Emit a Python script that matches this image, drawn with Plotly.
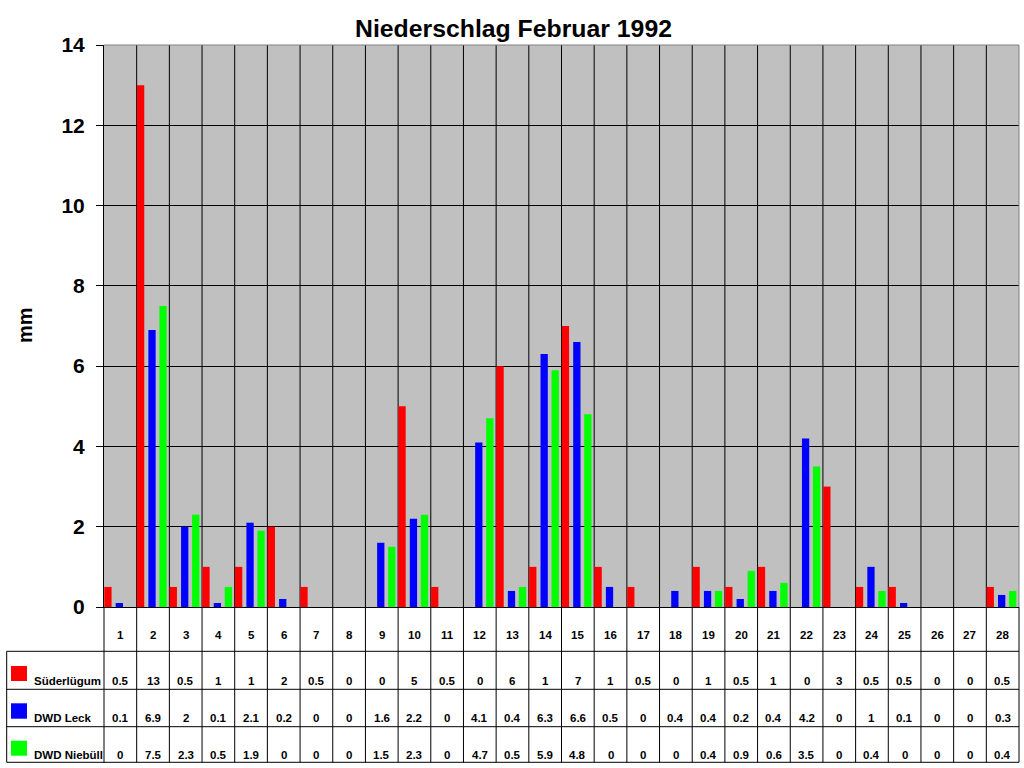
import plotly.graph_objects as go

days = [str(d) for d in range(1, 29)]
series_names = ["Süderlügum", "DWD Leck", "DWD Niebüll"]
suederluegum = [0.5, 13, 0.5, 1, 1, 2, 0.5, 0, 0, 5, 0.5, 0, 6, 1, 7, 1, 0.5, 0, 1, 0.5, 1, 0, 3, 0.5, 0.5, 0, 0, 0.5]
dwd_leck = [0.1, 6.9, 2, 0.1, 2.1, 0.2, 0, 0, 1.6, 2.2, 0, 4.1, 0.4, 6.3, 6.6, 0.5, 0, 0.4, 0.4, 0.2, 0.4, 4.2, 0, 1, 0.1, 0, 0, 0.3]
dwd_niebuell = [0, 7.5, 2.3, 0.5, 1.9, 0, 0, 0, 1.5, 2.3, 0, 4.7, 0.5, 5.9, 4.8, 0, 0, 0, 0.4, 0.9, 0.6, 3.5, 0, 0.4, 0, 0, 0, 0.4]
y_ticks = [0, 2, 4, 6, 8, 10, 12, 14]
title_text = "Niederschlag Februar 1992"
y_title = "mm"

colors = ["#FF0000", "#0000FF", "#00FF00"]
offsets = [-0.491, -0.142, 0.195]
bar_w = 0.223
FONT = "Arial, Liberation Sans, sans-serif"

W, H = 1024, 768
L, R, T, B = 104, 5, 45, 161
plot_w = W - L - R
plot_h = H - T - B


def py(ypx):
    return (H - B - ypx) / plot_h


def px(xpx):
    return (xpx - L) / plot_w


fig = go.Figure()
all_series = [suederluegum, dwd_leck, dwd_niebuell]
for name, vals, col, off in zip(series_names, all_series, colors, offsets):
    fig.add_trace(go.Bar(x=days, y=vals, name=name, marker=dict(color=col, line=dict(width=0)),
                         width=bar_w, offset=off, showlegend=False))

shapes = []
annotations = []

# plot border (top/right gray)
shapes.append(dict(type="line", xref="paper", yref="paper", x0=0, x1=1, y0=1, y1=1,
                   line=dict(color="#808080", width=1)))
shapes.append(dict(type="line", xref="paper", yref="paper", x0=1, x1=1, y0=0, y1=1,
                   line=dict(color="#808080", width=1)))

# vertical category boundary lines through plot and table
y_tab_bottom = py(762.3)
for i in range(1, len(days)):
    shapes.append(dict(type="line", xref="x", yref="paper", x0=i - 0.5, x1=i - 0.5,
                       y0=y_tab_bottom, y1=1, line=dict(color="black", width=1), layer="below"))
shapes.append(dict(type="line", xref="paper", yref="paper", x0=0, x1=0, y0=y_tab_bottom, y1=0,
                   line=dict(color="black", width=1)))
shapes.append(dict(type="line", xref="paper", yref="paper", x0=1, x1=1, y0=y_tab_bottom, y1=0,
                   line=dict(color="black", width=1)))

# table horizontal lines
x_tab_left = px(6.7)
row_lines = [651.3, 689.3, 726.7, 762.3]
for yl in row_lines:
    shapes.append(dict(type="line", xref="paper", yref="paper", x0=x_tab_left, x1=1,
                       y0=py(yl), y1=py(yl), line=dict(color="black", width=1)))
shapes.append(dict(type="line", xref="paper", yref="paper", x0=x_tab_left, x1=x_tab_left,
                   y0=py(651.3), y1=y_tab_bottom, line=dict(color="black", width=1)))

TFONT = dict(family=FONT, size=11.5, color="black", weight="bold")

# day number row
for i, d in enumerate(days):
    annotations.append(dict(x=i, y=py(635), xref="x", yref="paper", text=d, showarrow=False,
                            xanchor="center", yanchor="middle", font=TFONT))


def fmt(v):
    return ("%g" % v)


row_text_y = [680.7, 718, 754.7]
swatch_y = [(666, 681), (703.3, 718.7), (740.7, 755.7)]
for name, vals, col, ty, (s0, s1) in zip(series_names, all_series, colors, row_text_y, swatch_y):
    shapes.append(dict(type="rect", xref="paper", yref="paper", x0=px(11), x1=px(27),
                       y0=py(s1), y1=py(s0), fillcolor=col, line=dict(width=0)))
    annotations.append(dict(x=px(32), y=py(ty), xref="paper", yref="paper", text=name,
                            showarrow=False, xanchor="left", yanchor="middle", font=TFONT))
    for i, v in enumerate(vals):
        annotations.append(dict(x=i, y=py(ty), xref="x", yref="paper", text=fmt(v), showarrow=False,
                                xanchor="center", yanchor="middle", font=TFONT))

# title and y axis title
annotations.append(dict(x=px(513), y=py(28), xref="paper", yref="paper", text=title_text,
                        showarrow=False, xanchor="center", yanchor="middle",
                        font=dict(family=FONT, size=24.8, color="black", weight="bold")))
annotations.append(dict(x=px(25), y=py(325), xref="paper", yref="paper", text=y_title,
                        showarrow=False, xanchor="center", yanchor="middle", textangle=-90,
                        font=dict(family=FONT, size=20, color="black", weight="bold")))

fig.update_layout(
    width=W, height=H,
    margin=dict(l=L, r=R, t=T, b=B),
    paper_bgcolor="white", plot_bgcolor="#C0C0C0",
    barmode="overlay",
    shapes=shapes, annotations=annotations,
    xaxis=dict(type="category", range=[-0.5, len(days) - 0.5], showgrid=False,
               showticklabels=False, ticks="", showline=True, linecolor="black", linewidth=1,
               zeroline=False, fixedrange=True),
    yaxis=dict(range=[0, 14], tickvals=y_ticks, showgrid=True, gridcolor="black", gridwidth=1,
               ticks="outside", ticklen=7, tickcolor="black", tickwidth=1,
               showline=True, linecolor="black", linewidth=1, zeroline=False,
               ticklabelstandoff=7,
               tickfont=dict(family=FONT, size=21, color="black", weight="bold"), fixedrange=True),
)

fig.write_html("out.html", config={"displayModeBar": False},
               post_script="document.body.style.margin='0';document.body.style.overflow='hidden';")
